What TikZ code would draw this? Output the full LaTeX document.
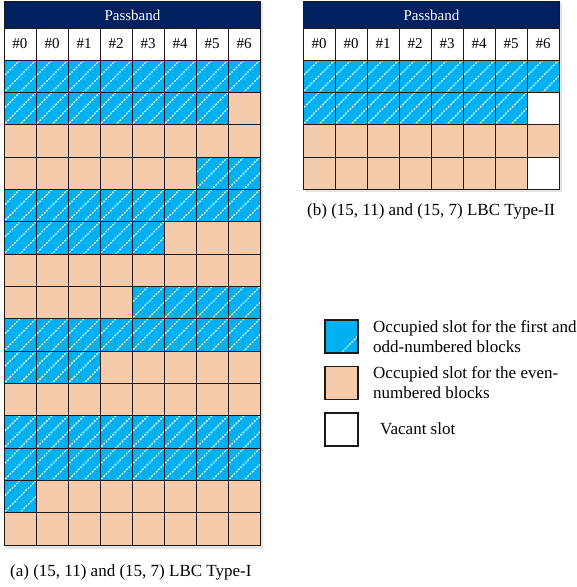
\documentclass[tikz,border=0pt]{standalone}
\usepackage{fontspec}
\setmainfont{Liberation Serif}
\definecolor{sblue}{HTML}{00B0F0}
\definecolor{speach}{HTML}{F6CBAC}
\definecolor{navy}{HTML}{002060}
\definecolor{gridline}{HTML}{1A1A1A}
\tikzset{
  hatch/.style={white, opacity=0.9, line width=1.3pt, dash pattern=on 2pt off 1.2pt},
  cellB/.style={fill=sblue, path picture={
      \foreach \o in {16,32,48}
        \draw[hatch, shift={(path picture bounding box.north west)}] (\o,0) -- (0,\o);}},
  cellP/.style={fill=speach},
  cellW/.style={fill=white},
  gridpen/.style={draw=gridline, line width=0.9pt},
  hdr/.style={fill=navy, draw=gridline, line width=0.9pt, text=white, font=\fontsize{15}{18}\selectfont,
      minimum width=256pt, minimum height=27pt, inner sep=0pt},
  lbl/.style={font=\fontsize{15}{18}\selectfont, inner sep=0pt},
  captxt/.style={font=\fontsize{17}{20}\selectfont, inner sep=0pt, anchor=west},
  legtxt/.style={font=\fontsize{17}{20}\selectfont, inner sep=0pt, anchor=west, align=left},
  legbox/.style={draw=gridline, line width=1.1pt, minimum width=33pt, minimum height=33pt, inner sep=0pt},
  shadowbox/.style={fill=black, opacity=0.10}
}
\begin{document}
\begin{tikzpicture}[x=1pt,y=-1pt]
\useasboundingbox (0,0) rectangle (577,587);
% shadows
\fill[shadowbox] (6,3) rectangle (263,549);
\fill[shadowbox] (305,3) rectangle (562,192);
% ---------- left grid ----------
\foreach \row [count=\r from 0] in {
  {B,B,B,B,B,B,B,B},{B,B,B,B,B,B,B,P},{P,P,P,P,P,P,P,P},{P,P,P,P,P,P,B,B},
  {B,B,B,B,B,B,B,B},{B,B,B,B,B,P,P,P},{P,P,P,P,P,P,P,P},{P,P,P,P,B,B,B,B},
  {B,B,B,B,B,B,B,B},{B,B,B,P,P,P,P,P},{P,P,P,P,P,P,P,P},{B,B,B,B,B,B,B,B},
  {B,B,B,B,B,B,B,B},{B,P,P,P,P,P,P,P},{P,P,P,P,P,P,P,P}}{
  \foreach \c [count=\k from 0] in \row {
    \path[gridpen, cell\c] ({4+32*\k},{60+32.35*\r}) rectangle ++(32,32.35);
  }
}
\foreach \t [count=\k from 0] in {\#0,\#0,\#1,\#2,\#3,\#4,\#5,\#6}{
  \draw[gridpen, fill=white] ({4+32*\k},28) rectangle ++(32,32);
  \node[lbl] (la\k) at ({20+32*\k},44) {\t};
}
\node[hdr, anchor=north west] (hdrA) at (4,1) {Passband};
% ---------- right grid ----------
\foreach \row [count=\r from 0] in {
  {B,B,B,B,B,B,B,B},{B,B,B,B,B,B,B,W},{P,P,P,P,P,P,P,P},{P,P,P,P,P,P,P,W}}{
  \foreach \c [count=\k from 0] in \row {
    \path[gridpen, cell\c] ({303+32*\k},{60+32.35*\r}) rectangle ++(32,32.35);
  }
}
\foreach \t [count=\k from 0] in {\#0,\#0,\#1,\#2,\#3,\#4,\#5,\#6}{
  \draw[gridpen, fill=white] ({303+32*\k},28) rectangle ++(32,32);
  \node[lbl] (lb\k) at ({319+32*\k},44) {\t};
}
\node[hdr, anchor=north west] (hdrB) at (303,1) {Passband};
% ---------- captions ----------
\node[captxt] (capA) at (10,572) {(a) (15, 11) and (15, 7) LBC Type-I};
\node[captxt] (capB) at (307,211) {(b) (15, 11) and (15, 7) LBC Type-II};
% ---------- legend ----------
\node[legbox, cellB] (legB) at (341.5,336.5) {};
\node[legbox, cellP] (legP) at (341.5,383) {};
\node[legbox, cellW] (legW) at (341.5,429.5) {};
\node[legtxt] (legBt) at (373,337) {Occupied slot for the first and\\odd-numbered blocks};
\node[legtxt] (legPt) at (373,382.5) {Occupied slot for the even-\\numbered blocks};
\node[legtxt] (legWt) at (380,428.5) {Vacant slot};
\end{tikzpicture}
\end{document}
